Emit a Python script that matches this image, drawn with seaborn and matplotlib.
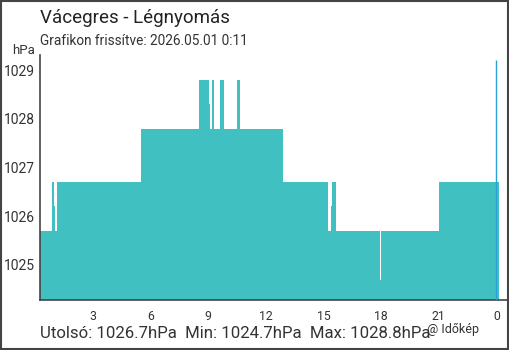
import matplotlib
matplotlib.use("Agg")
import matplotlib.pyplot as plt
import seaborn as sns
import pandas as pd
from matplotlib.patches import Rectangle

# ---- data (hours since previous midnight, pressure in hPa) ----
times = [0.24, 0.87, 0.97, 1.02, 1.13, 5.49, 8.51, 9.03, 9.08, 9.18, 9.29, 9.60,
         9.81, 10.48, 10.64, 12.88, 15.21, 15.37, 15.42, 15.63, 17.92, 17.98,
         21.03, 24.15]
pressure = [1025.7, 1026.7, 1026.2, 1025.7, 1026.7, 1027.8, 1028.8, 1028.3,
            1027.8, 1028.8, 1027.8, 1028.8, 1027.8, 1028.8, 1027.8, 1026.7,
            1025.7, 1026.2, 1026.7, 1025.7, 1024.7, 1025.7, 1026.7, 1026.7]
now_hour = 23.98
now_top = 1029.2
tick_pos = [0.24, 3, 6, 9, 12, 15, 18, 21, 24]
tick_labels = ["", "3", "6", "9", "12", "15", "18", "21", "0"]
y_ticks = [1025, 1026, 1027, 1028, 1029]

title = "Vácegres - Légnyomás"
subtitle = "Grafikon frissítve: 2026.05.01 0:11"
footer = "Utolsó: 1026.7hPa  Min: 1024.7hPa  Max: 1028.8hPa"
credit = "@ Időkép"

sns.set_style("white")
plt.rcParams["font.family"] = ["Roboto", "DejaVu Sans"]

TEXT = "#333333"
AXC = "#444444"
FILL = "#40C0C0"

df = pd.DataFrame({"t": times, "p": pressure})

fig = plt.figure(figsize=(5.1, 3.5), dpi=100)
ax = fig.add_axes([40 / 510, 1 - 300 / 350, 468 / 510, 245 / 350])

ymin, ymax = 1024.28, 1029.31
ax.fill_between(df["t"], df["p"], ymin, step="post", color=FILL, linewidth=0)
sns.lineplot(data=df, x="t", y="p", ax=ax, drawstyle="steps-post",
             color=FILL, linewidth=0, estimator=None, sort=False)
ax.vlines(now_hour, ymin, now_top, color="#2a9fd8", linewidth=1.0, zorder=3)

ax.set_xlim(0.24, 24.6)
ax.set_ylim(ymin, ymax)
ax.set_xlabel("")
ax.set_ylabel("")
ax.set_xticks(tick_pos)
ax.set_xticklabels(tick_labels)
ax.set_yticks(y_ticks)
ax.set_yticklabels([str(v) for v in y_ticks])

for s in ["top", "right"]:
    ax.spines[s].set_visible(False)
for s in ["left", "bottom"]:
    ax.spines[s].set_color(AXC)
    ax.spines[s].set_linewidth(1.2)

ax.tick_params(axis="y", direction="inout", length=10, width=1.1, color=AXC,
               labelsize=10, labelcolor=TEXT, pad=-1)
ax.tick_params(axis="x", direction="out", length=4.5, width=1.1, color=AXC,
               labelsize=8.8, labelcolor=TEXT, pad=3)
ax.get_xticklines()[-2].set_color("#2a9fd8")

fig.text(40 / 510, 1 - 18 / 350, title, fontsize=13.5, color="#222222",
         va="center", ha="left")
fig.text(40 / 510, 1 - 41 / 350, subtitle, fontsize=9.8, color=TEXT,
         va="center", ha="left")
fig.text(12 / 510, 1 - 50 / 350, "hPa", fontsize=9.5, color=TEXT,
         va="center", ha="left")
fig.text(40 / 510, 1 - 333 / 350, footer, fontsize=12.1, color=TEXT,
         va="center", ha="left")
fig.text(427 / 510, 1 - 330 / 350, credit, fontsize=9, color=TEXT,
         va="center", ha="left")

fig.patches.append(Rectangle((0.001, 0.002), 0.995, 0.996, transform=fig.transFigure,
                             fill=False, edgecolor=AXC, linewidth=1.5))

fig.savefig("out.png", dpi=100)
